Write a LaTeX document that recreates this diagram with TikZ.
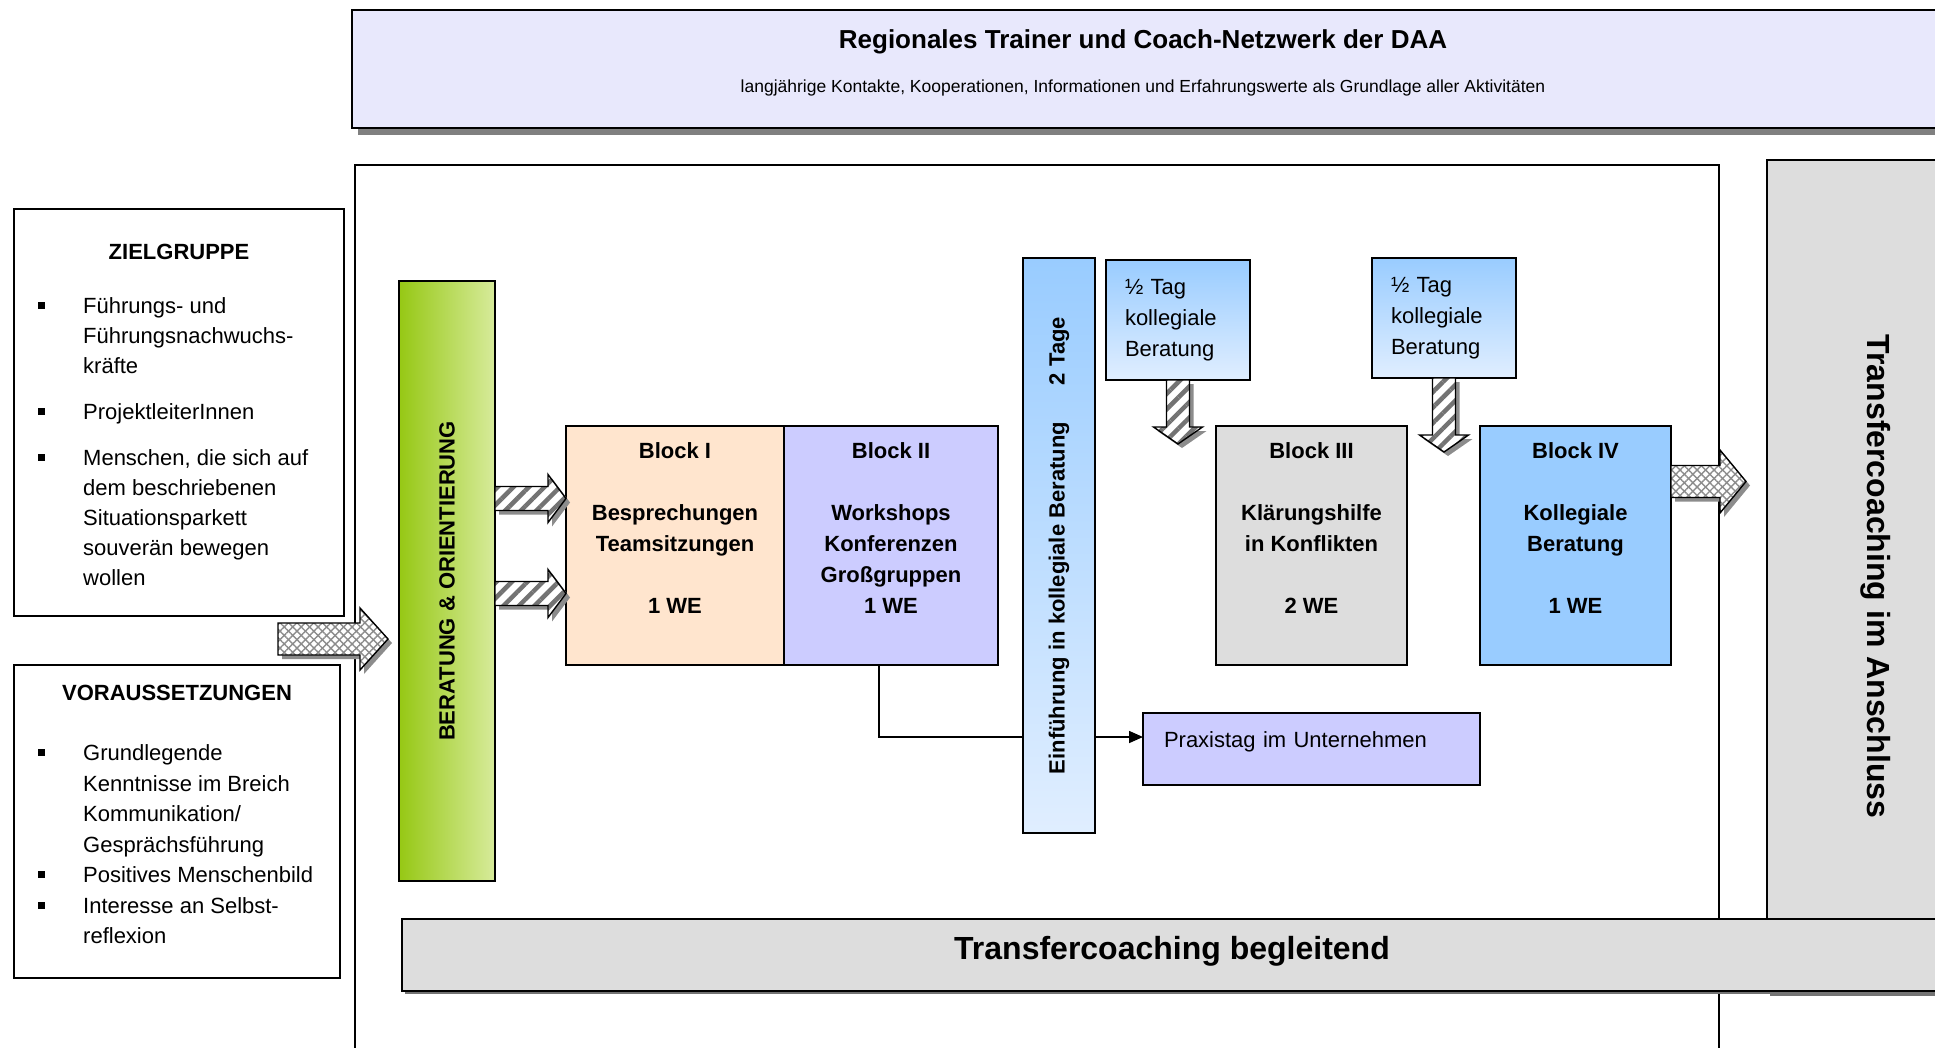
\documentclass[tikz,border=0pt]{standalone}
\usepackage{fontspec}
\setmainfont{Liberation Sans}
\usepackage{graphicx}
\usetikzlibrary{arrows.meta, calc, patterns.meta, positioning, shadows}

\definecolor{daapeach}{RGB}{255,229,206}
\definecolor{daalilac}{RGB}{204,204,255}
\definecolor{daagrey}{RGB}{221,221,221}
\definecolor{daablue}{RGB}{153,204,255}
\definecolor{daapale}{RGB}{224,238,255}
\definecolor{daagreen}{RGB}{150,200,20}
\definecolor{daalime}{RGB}{215,235,155}
\definecolor{daabanner}{RGB}{232,232,252}

\newcommand{\bodyfont}{\fontsize{22}{30}\selectfont}
\newcommand{\blockfont}{\fontsize{22}{31}\selectfont\bfseries}
\newcommand{\bul}{\rule[4.5pt]{7pt}{7pt}}

% block arrows: style, tail centre, length, body, head, head length
\newcommand{\rightblock}[6]{%
  \draw [#1] #2 ++(0,-#4/2) -- ++(#3-#6,0) -- ++(0,-#5/2+#4/2)
    -- ++(#6,#5/2) -- ++(-#6,#5/2) -- ++(0,-#5/2+#4/2) -- ++(-#3+#6,0) -- cycle;}
\newcommand{\downblock}[6]{%
  \draw [#1] #2 ++(-#4/2,0) -- ++(0,#3-#6) -- ++(-#5/2+#4/2,0)
    -- ++(#5/2,#6) -- ++(#5/2,-#6) -- ++(-#5/2+#4/2,0) -- ++(0,-#3+#6) -- cycle;}

\tikzset{
  box/.style = {draw, line width=1.6pt, inner sep=0pt, outer sep=0pt},
  frame/.style = {draw, line width=1.2pt, inner sep=0pt, outer sep=0pt},
  block/.style = {box, minimum height=239pt, anchor=north west},
  blocktext/.style = {align=center, inner sep=0pt, font=\blockfont},
  halfday/.style = {box, top color=daablue, bottom color=daapale,
                    minimum width=144pt, minimum height=120pt, text width=106pt,
                    inner xsep=19pt, align=left, anchor=north west,
                    font=\fontsize{22}{31}\selectfont},
  vbar/.style = {box, anchor=north west, font=\fontsize{22}{26}\selectfont\bfseries},
  bigbar/.style = {box, fill=daagrey, anchor=north west,
                   drop shadow={shadow xshift=3pt, shadow yshift=-3pt,
                                fill=black!55, opacity=1},
                   font=\fontsize{32}{36}\selectfont\bfseries},
  infobox/.style = {draw, line width=1.8pt, inner sep=0pt, outer sep=0pt,
                    anchor=north west},
  infohead/.style = {inner sep=0pt, font=\fontsize{22}{26}\selectfont\bfseries},
  infolist/.style = {inner sep=0pt, anchor=north west, font=\bodyfont},
  hatch arrow/.style = {draw, line width=1.4pt,
                        drop shadow={shadow xshift=4pt, shadow yshift=-4pt,
                                     fill=black!45, opacity=1},
                        preaction={fill=white},
                        pattern={Lines[angle=45, distance=11pt, line width=4.5pt]},
                        pattern color=black!55},
  weave arrow/.style = {draw, line width=1.4pt,
                        drop shadow={shadow xshift=4pt, shadow yshift=-4pt,
                                     fill=black!45, opacity=1},
                        preaction={fill=white},
                        preaction={pattern={Lines[angle=45, distance=6pt, line width=1.4pt]},
                                   pattern color=black!45},
                        pattern={Lines[angle=-45, distance=6pt, line width=1.4pt]},
                        pattern color=black!45},
  link/.style = {line width=1.6pt, -{Triangle[length=14pt, width=12pt]}},
}

\begin{document}
\begin{tikzpicture}[x=1pt, y=-1pt]
  \useasboundingbox (0,0) rectangle (1935,1047);

  % frame of the course
  \node (course) [frame, minimum width=1364pt, minimum height=905pt,
    anchor=north west] at (355,165) {};

  % network banner
  \node (net) [box, fill=daabanner, anchor=north west,
    drop shadow={shadow xshift=6pt, shadow yshift=-7pt, fill=black!50, opacity=1},
    minimum width=1620pt, minimum height=118pt] at (352,10) {};
  \node (nettitle) [anchor=base, font=\fontsize{26}{30}\selectfont\bfseries]
    at (1143,48) {Regionales Trainer und Coach-Netzwerk der DAA};
  \node (netsub) [anchor=base, font=\fontsize{17.5}{21}\selectfont]
    at (1143,92) {langjährige Kontakte, Kooperationen, Informationen und Erfahrungswerte als Grundlage aller Aktivitäten};

  % transfer coaching
  \node (after) [bigbar, minimum width=218pt, minimum height=833pt]
    at (1767,160) {\rotatebox{-90}{Transfercoaching im Anschluss}};
  \node (along) [bigbar, minimum width=1540pt, minimum height=72pt, text depth=14pt]
    at (402,919) {Transfercoaching begleitend};

  % target group and requirements
  \node (aud) [infobox, minimum width=330pt, minimum height=407pt] at (14,209) {};
  \node (audhead) [infohead, below=35pt of aud.north] {ZIELGRUPPE};
  \node (audlist) [infolist] at (38,292) {%
    \begin{tabular}{@{}p{45pt}@{}l@{}}
      \bul & Führungs- und\\
           & Führungsnachwuchs-\\
           & kräfte\\[16pt]
      \bul & ProjektleiterInnen\\[16pt]
      \bul & Menschen, die sich auf\\
           & dem beschriebenen\\
           & Situationsparkett\\
           & souverän bewegen\\
           & wollen
    \end{tabular}};

  \node (req) [infobox, minimum width=326pt, minimum height=313pt] at (14,665) {};
  \node (reqhead) [infohead, below=20pt of req.north] {VORAUSSETZUNGEN};
  \node (reqlist) [infolist, font=\fontsize{22}{30.5}\selectfont] at (38,739) {%
    \begin{tabular}{@{}p{45pt}@{}l@{}}
      \bul & Grundlegende\\
           & Kenntnisse im Breich\\
           & Kommunikation/\\
           & Gesprächsführung\\
      \bul & Positives Menschenbild\\
      \bul & Interesse an Selbst-\\
           & reflexion
    \end{tabular}};

  \coordinate (inflow) at (278,639);
  \rightblock{weave arrow}{(inflow)}{110}{32}{62}{28}

  % orientation bar
  \node (orient) [vbar, left color=daagreen, right color=daalime,
    minimum width=96pt, minimum height=600pt] at (399,281)
    {\rotatebox{90}{BERATUNG \& ORIENTIERUNG}};

  % blocks
  \node (blk1) [block, fill=daapeach, minimum width=218pt] at (566,426) {};
  \node (blk2) [block, fill=daalilac, minimum width=214pt, right=0pt of blk1] {};
  \node (blk3) [block, fill=daagrey, minimum width=191pt] at (1216,426) {};
  \node (blk4) [block, fill=daablue, minimum width=191pt, right=73pt of blk3] {};

  \node (blk1txt) [blocktext, below=16pt of blk1.north]
    {Block I\\[31pt]Besprechungen\\Teamsitzungen\\[31pt]1 WE};
  \node (blk2txt) [blocktext, below=16pt of blk2.north]
    {Block II\\[31pt]Workshops\\Konferenzen\\Großgruppen\\1 WE};
  \node (blk3txt) [blocktext, below=16pt of blk3.north]
    {Block III\\[31pt]Klärungshilfe\\in Konflikten\\[31pt]2 WE};
  \node (blk4txt) [blocktext, below=16pt of blk4.north]
    {Block IV\\[31pt]Kollegiale\\Beratung\\[31pt]1 WE};

  \rightblock{hatch arrow}{($(orient.east |- blk1.west)+(0,-47)$)}{71}{24}{48}{18}
  \rightblock{hatch arrow}{($(orient.east |- blk1.west)+(0,48)$)}{71}{24}{48}{18}

  % practice day
  \node (prx) [box, fill=daalilac, minimum width=337pt, minimum height=72pt,
    text width=295pt, inner xsep=21pt, align=left, text depth=18pt,
    font=\fontsize{22}{26}\selectfont, anchor=north west] at (1143,713)
    {Praxistag im Unternehmen};
  \draw [link] ([xshift=-12pt]blk2.south) |- ([yshift=12pt]prx.west);

  % introduction bar
  \node (intro) [vbar, top color=daablue, bottom color=daapale,
    minimum width=72pt, minimum height=575pt] at (1023,258)
    {\rotatebox{90}{Einführung in kollegiale Beratung\hspace{37pt}2 Tage}};

  % half days
  \node (half1) [halfday] at (1106,260) {½ Tag\\kollegiale\\Beratung};
  \node (half2) [halfday, minimum width=143pt] at (1372,258) {½ Tag\\kollegiale\\Beratung};
  \downblock{hatch arrow}{(half1.south)}{64}{23}{49}{17}
  \downblock{hatch arrow}{(half2.south)}{74}{23}{49}{17}

  \rightblock{weave arrow}{($(blk4.east)+(0,-64)$)}{75}{32}{63}{26}
\end{tikzpicture}
\end{document}
